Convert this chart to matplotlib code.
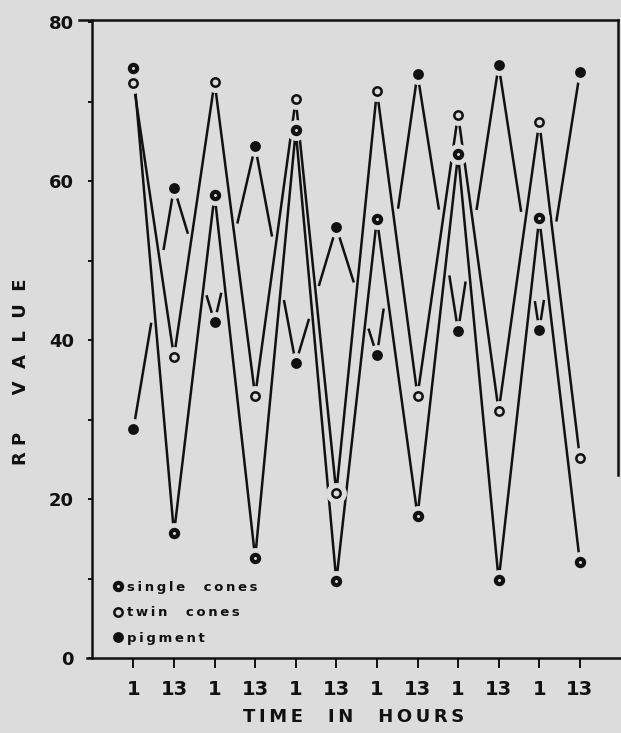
import matplotlib
matplotlib.use("Agg")
import matplotlib.pyplot as plt
from matplotlib.lines import Line2D
import numpy as np

# values (RP value at each sampling time)
time_labels = ["1", "13"] * 6
single_cones = [74.2, 15.7, 58.3, 12.6, 66.4, 9.7, 55.3, 17.9, 63.4, 9.8, 55.4, 12.1]
twin_cones = [72.4, 37.9, 72.5, 33.0, 70.3, 20.8, 71.4, 33.0, 68.4, 31.1, 67.5, 25.2]
pigment = [28.8, 59.2, 42.3, 64.4, 37.1, 54.2, 38.1, 73.5, 41.2, 74.6, 41.3, 73.7]

BG = '#dcdcdc'
INK = '#111111'
FONT = 'DejaVu Sans'
TS = '\u2009'  # thin space, used to spread the hand lettering


def spaced(word):
    return TS.join(word)


x = np.arange(len(time_labels))

fig = plt.figure(figsize=(6.21, 7.33), dpi=100)
fig.patch.set_facecolor(BG)
ax = fig.add_axes([92 / 621, 75 / 733, 526 / 621, 638 / 733])
ax.set_facecolor(BG)
ax.set_xlim(-1.02, 11.94)
ax.set_ylim(0, 80.3)

lw = 1.8
ax.plot(x, single_cones, color=INK, lw=lw, zorder=2)
ax.plot(x, twin_cones, color=INK, lw=lw, zorder=2)


def broken_line(xs, ys, others, margin=0.07):
    # the pigment curve is interrupted where it crosses the cone curves
    for i in range(len(xs) - 1):
        ts = []
        for o in others:
            d0 = ys[i] - o[i]
            d1 = ys[i + 1] - o[i + 1]
            if d0 * d1 < 0:
                ts.append(d0 / (d0 - d1))
        if ts:
            pieces = [(0.0, min(ts) - margin), (max(ts) + margin, 1.0)]
        else:
            pieces = [(0.0, 1.0)]
        for a, b in pieces:
            if b <= a:
                continue
            t = np.array([a, b])
            ax.plot(xs[i] + (xs[i + 1] - xs[i]) * t,
                    ys[i] + (ys[i + 1] - ys[i]) * t,
                    color=INK, lw=lw, solid_capstyle='butt', zorder=2)


broken_line(x, pigment, [single_cones, twin_cones])

# gaps between the lines and the markers
for s in (single_cones, twin_cones, pigment):
    ax.plot(x, s, ls='none', marker='o', ms=14, mfc=BG, mec=BG, zorder=3)

sty_single = dict(marker='o', ms=5.2, mfc=BG, mec=INK, mew=3.0)
sty_twin = dict(marker='o', ms=6.0, mfc=BG, mec=INK, mew=1.8)
sty_pig = dict(marker='o', ms=7.8, mfc=INK, mec=INK, mew=0)
ax.plot(x, single_cones, ls='none', zorder=4, **sty_single)
ax.plot(x, twin_cones, ls='none', zorder=4, **sty_twin)
ax.plot(x, pigment, ls='none', zorder=4, **sty_pig)

# axes styling
for side in ('left', 'bottom', 'top', 'right'):
    ax.spines[side].set_linewidth(1.8)
    ax.spines[side].set_color(INK)
    ax.spines[side].set_clip_on(False)
ax.spines['right'].set_bounds(23, 80.3)
ax.spines['top'].set_bounds(-1.35, 11.94)
ax.spines['bottom'].set_bounds(-1.15, 12.1)

ax.set_xticks(x)
ax.set_xticklabels(time_labels)
ax.set_yticks([0, 20, 40, 60, 80])
ax.set_yticks(np.arange(10, 80, 10), minor=True)
ax.tick_params(axis='x', direction='out', length=7, width=1.4, pad=9,
               labelsize=14, colors=INK)
ax.tick_params(axis='y', which='both', direction='out', length=3, width=1.4,
               pad=10, labelsize=13, colors=INK)
for lab in ax.get_xticklabels() + ax.get_yticklabels():
    lab.set_fontweight('bold')
    lab.set_fontfamily(FONT)

fig.text(21.5 / 621, 1 - 371.5 / 733,
         "R P      V  A  L  U  E", rotation=90,
         ha='center', va='center', fontsize=13, fontweight='bold',
         family=FONT, color=INK)
fig.text(354 / 621, 1 - 717 / 733,
         spaced("TIME") + "    " + spaced("IN") + "    " + spaced("HOURS"),
         ha='center', va='center', fontsize=13, fontweight='bold',
         family=FONT, color=INK)

handles = [Line2D([], [], ls='none', **sty_single),
           Line2D([], [], ls='none', **sty_twin),
           Line2D([], [], ls='none', **sty_pig)]
labels = [spaced("single") + "    " + spaced("cones"),
          spaced("twin") + "    " + spaced("cones"),
          spaced("pigment")]
leg = ax.legend(handles, labels, loc='upper left',
                bbox_to_anchor=(0.04, 0.121), frameon=False,
                handlelength=0.8, handletextpad=0.25, labelspacing=0.95,
                borderpad=0, borderaxespad=0,
                prop=dict(family=FONT, weight='bold', size=9.5))
for t in leg.get_texts():
    t.set_color(INK)

fig.savefig("out.png", dpi=100, facecolor=BG)
